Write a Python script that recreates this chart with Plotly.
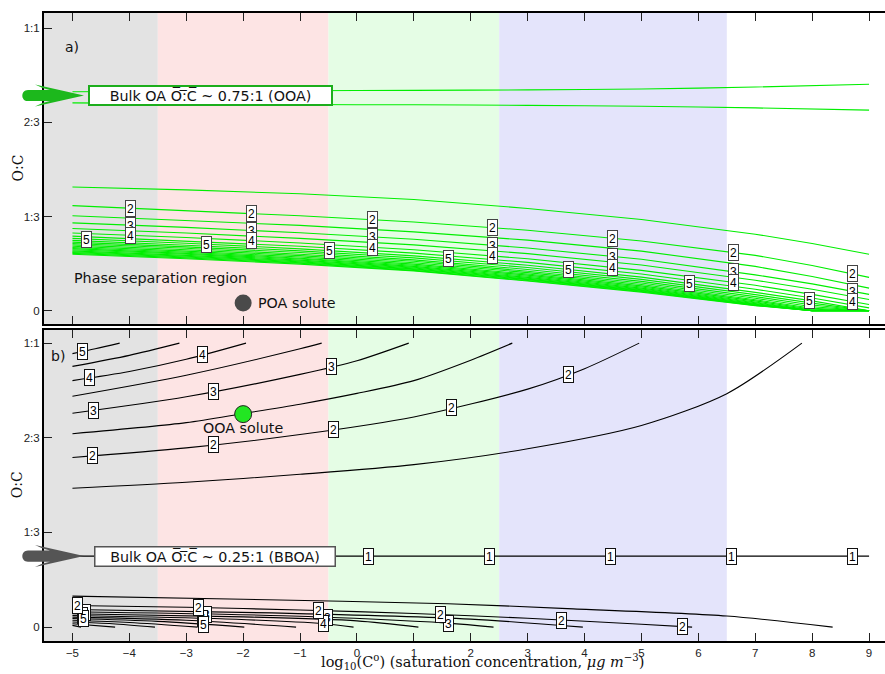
import numpy as np
import plotly.graph_objects as go

# ---------------- data ----------------
# panel a): two boundary curves near the bulk OOA O:C
XU = [-5, -3, -1, 1, 3, 5, 7, 9]
U_LINES = [
    [0.775, 0.777, 0.779, 0.780, 0.782, 0.785, 0.792, 0.802],
    [0.736, 0.733, 0.730, 0.729, 0.727, 0.724, 0.718, 0.710],
]

# panel a): contour bundle (top to bottom), clipped at O:C = 0
XA = [-5, -3, -1, 1, 3, 5, 7, 8, 9]
A_LINES = [
    [0.438, 0.428, 0.414, 0.394, 0.362, 0.323, 0.271, 0.238, 0.200],
    [0.372, 0.355, 0.336, 0.314, 0.285, 0.247, 0.196, 0.160, 0.118],  # level 2
    [0.336, 0.320, 0.302, 0.279, 0.250, 0.211, 0.157, 0.121, 0.080],
    [0.311, 0.295, 0.276, 0.253, 0.222, 0.182, 0.127, 0.095, 0.058],  # level 3
    [0.291, 0.275, 0.256, 0.233, 0.202, 0.162, 0.108, 0.076, 0.040],
    [0.275, 0.259, 0.240, 0.216, 0.184, 0.143, 0.090, 0.058, 0.022],  # level 4
    [0.264, 0.247, 0.228, 0.204, 0.171, 0.130, 0.076, 0.045, 0.010],
    [0.256, 0.239, 0.219, 0.194, 0.161, 0.119, 0.065, 0.035, 0.000],  # level 5
    [0.249, 0.232, 0.212, 0.187, 0.153, 0.111, 0.057, 0.027, 0.0],
    [0.243, 0.226, 0.206, 0.180, 0.146, 0.104, 0.050, 0.020, 0.0],
    [0.238, 0.221, 0.200, 0.175, 0.140, 0.098, 0.044, 0.014, 0.0],
    [0.233, 0.216, 0.195, 0.170, 0.135, 0.093, 0.039, 0.009, 0.0],
    [0.228, 0.211, 0.190, 0.165, 0.130, 0.088, 0.035, 0.005, 0.0],
    [0.224, 0.207, 0.186, 0.161, 0.126, 0.084, 0.031, 0.002, 0.0],
    [0.220, 0.203, 0.183, 0.157, 0.122, 0.080, 0.028, 0.0, 0.0],
    [0.216, 0.200, 0.179, 0.154, 0.118, 0.077, 0.025, 0.0, 0.0],
    [0.212, 0.196, 0.176, 0.151, 0.115, 0.074, 0.023, 0.0, 0.0],
    [0.209, 0.193, 0.173, 0.148, 0.112, 0.072, 0.021, 0.0, 0.0],
    [0.206, 0.190, 0.170, 0.146, 0.110, 0.070, 0.020, 0.0, 0.0],
    [0.203, 0.187, 0.168, 0.143, 0.107, 0.068, 0.019, 0.0, 0.0],
    [0.200, 0.184, 0.165, 0.141, 0.105, 0.066, 0.018, 0.0, 0.0],
]
A_LABEL_LINE = {"2": 1, "3": 3, "4": 5, "5": 7}
A_LABEL_X = {
    "2": [-3.98, -1.85, 0.27, 2.39, 4.49, 6.62, 8.71],
    "3": [-3.98, -1.85, 0.27, 2.39, 4.49, 6.62, 8.71],
    "4": [-3.98, -1.85, 0.27, 2.39, 4.49, 6.62, 8.71],
    "5": [-4.75, -2.65, -0.49, 1.61, 3.72, 5.84, 7.95],
}

# panel b): upper contours, each ending at O:C = 1
BT_X = [
    [-5, -4.6, -4.17],
    [-5, -4, -3.12],
    [-5, -4, -3, -1.95],
    [-5, -3, -1, -0.62],
    [-5, -3, -1, 0, 0.91],
    [-5, -3, -2, -1, 0, 1, 2, 2.73],
    [-5, -3, -1, 1, 3, 4, 4.96],
    [-5, -3, -1, 1, 3, 5, 6.5, 7.82],
]
BT_Y = [
    [0.963, 0.980, 1.0],
    [0.918, 0.957, 1.0],
    [0.868, 0.900, 0.943, 1.0],
    [0.813, 0.887, 0.980, 1.0],
    [0.753, 0.811, 0.890, 0.938, 1.0],
    [0.681, 0.720, 0.752, 0.785, 0.823, 0.868, 0.940, 1.0],
    [0.597, 0.631, 0.678, 0.740, 0.838, 0.910, 1.0],
    [0.489, 0.510, 0.538, 0.572, 0.628, 0.710, 0.822, 1.0],
]
BT_LABEL_LINE = {"5": 0, "4": 2, "3": 4, "2": 6}
BT_LABEL_X = {
    "5": [-4.82],
    "4": [-4.70, -2.71],
    "3": [-4.63, -2.53, -0.45],
    "2": [-4.64, -2.53, -0.41, 1.67, 3.72],
}

# panel b): bulk BBOA level
BBOA_X = [-5, 9]
BBOA_Y = [0.25, 0.25]
BBOA_LABEL_X = [0.21, 2.33, 4.46, 6.59, 8.71]

# panel b): lower contours, each ending at O:C = 0
BB_X = [
    [-5, -2, 1.6, 3.7, 6.5, 8.36],
    [-5, -3, -1, 1, 3, 5, 5.89],
    [-5, -1.5, 2, 3.97],
    [-5, -1.3, 1.6, 2.40],
    [-5, -2, 0, 1.08],
    [-5, -2.5, -0.58, -0.06],
    [-5, -3, -1.07],
    [-5, -3.5, -1.98],
    [-5, -4, -2.80],
    [-5, -4.3, -3.55],
    [-5, -4.25],
    [-5, -4.85],
]
BB_Y = [
    [0.109, 0.098, 0.082, 0.065, 0.039, 0.0],
    [0.076, 0.070, 0.060, 0.048, 0.031, 0.010, 0.0],
    [0.062, 0.050, 0.028, 0.0],
    [0.054, 0.040, 0.014, 0.0],
    [0.047, 0.036, 0.022, 0.0],
    [0.041, 0.030, 0.012, 0.0],
    [0.035, 0.024, 0.0],
    [0.030, 0.020, 0.0],
    [0.024, 0.016, 0.0],
    [0.018, 0.012, 0.0],
    [0.012, 0.0],
    [0.006, 0.0],
]
BB_LABEL_LINE = {"3": 3, "4": 5, "5": 7, "2": 1}
BB_LABEL_X = {
    "3": [-4.77, -2.64, -0.52, 1.61],
    "4": [-4.83, -2.71, -0.58],
    "5": [-4.80, -2.69],
    "2": [-4.92, -2.79, -0.67, 1.47, 3.59, 5.72],
}

# volatility bands (log10 C*)
BANDS = [(-5.5, -3.5, "#e3e3e3"), (-3.5, -0.5, "#fde4e4"),
         (-0.5, 2.5, "#e5fde5"), (2.5, 6.5, "#e4e4fb")]

POA = (-2.0, 0.027)
OOA = (-2.0, 0.75)
BULK_OOA = 0.762
BULK_BBOA = 0.25

Y_TICKS = [0, 1 / 3, 2 / 3, 1]
Y_TICK_TEXT = ["0", "1:3", "2:3", "1:1"]
X_TICKS = list(range(-5, 10))

# ---------------- layout geometry ----------------
W, H = 885, 674
ML, MR, MT, MB = 44, 0, 13, 33
XR = [-5.5, 9.28]
YR_A = [-0.047, 1.054]
YR_B = [-0.049, 1.048]
ph = H - MT - MB
DOM_A = [(641 - 324) / ph, 1.0]
DOM_B = [0.0, (641 - 329.5) / ph]

GREEN = "#00ee00"
fig = go.Figure()


def add_line(x, y, color, xa, ya, width=1.1, shape="linear"):
    fig.add_trace(go.Scatter(x=x, y=y, mode="lines", xaxis=xa, yaxis=ya,
                             line=dict(color=color, width=width, shape=shape,
                                       smoothing=0.8),
                             hoverinfo="skip", showlegend=False))


for ys in U_LINES:
    add_line(XU, ys, GREEN, "x", "y", shape="spline")
for ys in A_LINES:
    add_line(XA, ys, GREEN, "x", "y")

for xs, ys in zip(BT_X, BT_Y):
    add_line(xs, ys, "black", "x2", "y2", shape="spline")
add_line(BBOA_X, BBOA_Y, "black", "x2", "y2", width=1.3)
for xs, ys in zip(BB_X, BB_Y):
    add_line(xs, ys, "black", "x2", "y2", shape="spline")

# solute markers
fig.add_trace(go.Scatter(x=[POA[0]], y=[POA[1]], mode="markers", xaxis="x", yaxis="y",
                         marker=dict(size=17, color="#4a4a4a", line=dict(width=0)),
                         hoverinfo="skip", showlegend=False))
fig.add_trace(go.Scatter(x=[OOA[0]], y=[OOA[1]], mode="markers", xaxis="x2", yaxis="y2",
                         marker=dict(size=17, color="#22e622", line=dict(width=1, color="#222")),
                         hoverinfo="skip", showlegend=False))

annotations = []


def contour_label(text, x, y, xr, yr, border="#333"):
    annotations.append(dict(
        x=x, y=y, xref=xr, yref=yr, text=text, showarrow=False,
        font=dict(family="Liberation Sans, Arial", size=12, color="black"),
        bgcolor="white", bordercolor=border, borderwidth=1, borderpad=0,
        width=9, height=15, xanchor="center", yanchor="middle"))


for lev in ["3", "4", "5", "2"]:
    line = A_LINES[A_LABEL_LINE[lev]]
    for x in A_LABEL_X[lev]:
        contour_label(lev, x, float(np.interp(x, XA, line)), "x", "y", border="#444")

for lev in ["5", "4", "3", "2"]:
    i = BT_LABEL_LINE[lev]
    for x in BT_LABEL_X[lev]:
        contour_label(lev, x, float(np.interp(x, BT_X[i], BT_Y[i])), "x2", "y2", border="#111")

for x in BBOA_LABEL_X:
    contour_label("1", x, float(np.interp(x, BBOA_X, BBOA_Y)), "x2", "y2", border="#111")

for lev in ["3", "4", "5", "2"]:
    i = BB_LABEL_LINE[lev]
    for x in BB_LABEL_X[lev]:
        contour_label(lev, x, float(np.interp(x, BB_X[i], BB_Y[i])), "x2", "y2", border="#111")

SANS = "DejaVu Sans, Verdana, sans-serif"
SERIF = "DejaVu Serif, Liberation Serif, serif"


def text(t, x, y, xr, yr, size=14, xanchor="left", **kw):
    d = dict(x=x, y=y, xref=xr, yref=yr, text=t, showarrow=False,
             font=dict(family=SANS, size=size, color="#111"),
             xanchor=xanchor, yanchor="middle")
    d.update(kw)
    annotations.append(d)


text("a)", -5.16, 0.935, "x", "y", size=14)
text("b)", -5.42, 0.953, "x2", "y2", size=14)
text("Phase separation region", -5.0, 0.116, "x", "y", size=14.3)
text("POA solute", -1.77, 0.027, "x", "y", size=14.3)
text("OOA solute", -2.0, 0.702, "x2", "y2", size=14.3, xanchor="center")

OVER = "O\u0305:\u0305C\u0305"
annotations.append(dict(
    x=-2.58, y=BULK_OOA, xref="x", yref="y", showarrow=False,
    text="Bulk OA " + OVER + " ~ 0.75:1 (OOA)",
    font=dict(family=SANS, size=14.3, color="#111"),
    bgcolor="white", bordercolor="#1cae1c", borderwidth=2, borderpad=0,
    width=241, height=17, xanchor="center", yanchor="middle"))
annotations.append(dict(
    x=-2.49, y=BULK_BBOA, xref="x2", yref="y2", showarrow=False,
    text="Bulk OA " + OVER + " ~ 0.25:1 (BBOA)",
    font=dict(family=SANS, size=14.3, color="#111"),
    bgcolor="white", bordercolor="#555555", borderwidth=1.5, borderpad=0,
    width=239, height=18, xanchor="center", yanchor="middle"))

# axis titles
pw = W - ML - MR
annotations.append(dict(
    x=(482 - ML) / pw, y=0, xref="paper", yref="paper", yshift=-21,
    text="log<sub>10</sub>(C<sup>o</sup>) (saturation concentration, <i>μg m</i><sup>−3</sup>)",
    showarrow=False, font=dict(family=SERIF, size=14.5, color="#111"),
    xanchor="center", yanchor="middle"))
for dom in (DOM_A, DOM_B):
    annotations.append(dict(
        x=(17 - ML) / pw, y=(dom[0] + dom[1]) / 2, xref="paper", yref="paper",
        text="O:C", textangle=-90, showarrow=False,
        font=dict(family=SERIF, size=14, color="#111"),
        xanchor="center", yanchor="middle"))

# shapes: volatility bands + pointer arrows
shapes = []
for xr, yr in (("x", "y domain"), ("x2", "y2 domain")):
    for x0, x1, c in BANDS:
        shapes.append(dict(type="rect", xref=xr, yref=yr, x0=x0, x1=x1, y0=0, y1=1,
                           fillcolor=c, line=dict(width=0), layer="below"))


def to_paper(v, rng, dom):
    return dom[0] + (v - rng[0]) / (rng[1] - rng[0]) * (dom[1] - dom[0])


ARROW = ("M 0 0 L -49 11 Q -42 7 -34 5.6 L -56 5.6 "
         "C -63.5 5.6 -63.5 -5.6 -56 -5.6 L -34 -5.6 Q -42 -7 -49 -11 Z")
tip_x = (84 - ML) / pw
for v, rng, dom, col in ((BULK_OOA, YR_A, DOM_A, "#1cb81c"),
                         (BULK_BBOA, YR_B, DOM_B, "#555555")):
    shapes.append(dict(type="path", xref="paper", yref="paper",
                       xsizemode="pixel", ysizemode="pixel",
                       xanchor=tip_x, yanchor=to_paper(v, rng, dom),
                       path=ARROW, fillcolor=col, line=dict(width=0), layer="above"))

tickfont = dict(family="Liberation Sans, Arial", size=11.5, color="#222")
common_x = dict(range=XR, tickvals=X_TICKS, ticks="inside", ticklen=8, tickwidth=1.3,
                tickcolor="#222", showline=True, linewidth=2, linecolor="black",
                mirror="ticks", showgrid=False, zeroline=False, tickfont=tickfont)
common_y = dict(tickvals=Y_TICKS, ticktext=Y_TICK_TEXT, ticks="inside", ticklen=8,
                tickwidth=1.3, tickcolor="#222", showline=True, linewidth=2,
                linecolor="black", mirror=False, showgrid=False, zeroline=False,
                tickfont=tickfont)

fig.update_layout(
    width=W, height=H, margin=dict(l=ML, r=MR, t=MT, b=MB),
    paper_bgcolor="white", plot_bgcolor="white",
    xaxis=dict(common_x, anchor="y", showticklabels=False),
    yaxis=dict(common_y, anchor="x", domain=DOM_A, range=YR_A),
    xaxis2=dict(common_x, anchor="y2"),
    yaxis2=dict(common_y, anchor="x2", domain=DOM_B, range=YR_B),
    annotations=annotations, shapes=shapes, showlegend=False,
)

fig.write_html("out.html")
